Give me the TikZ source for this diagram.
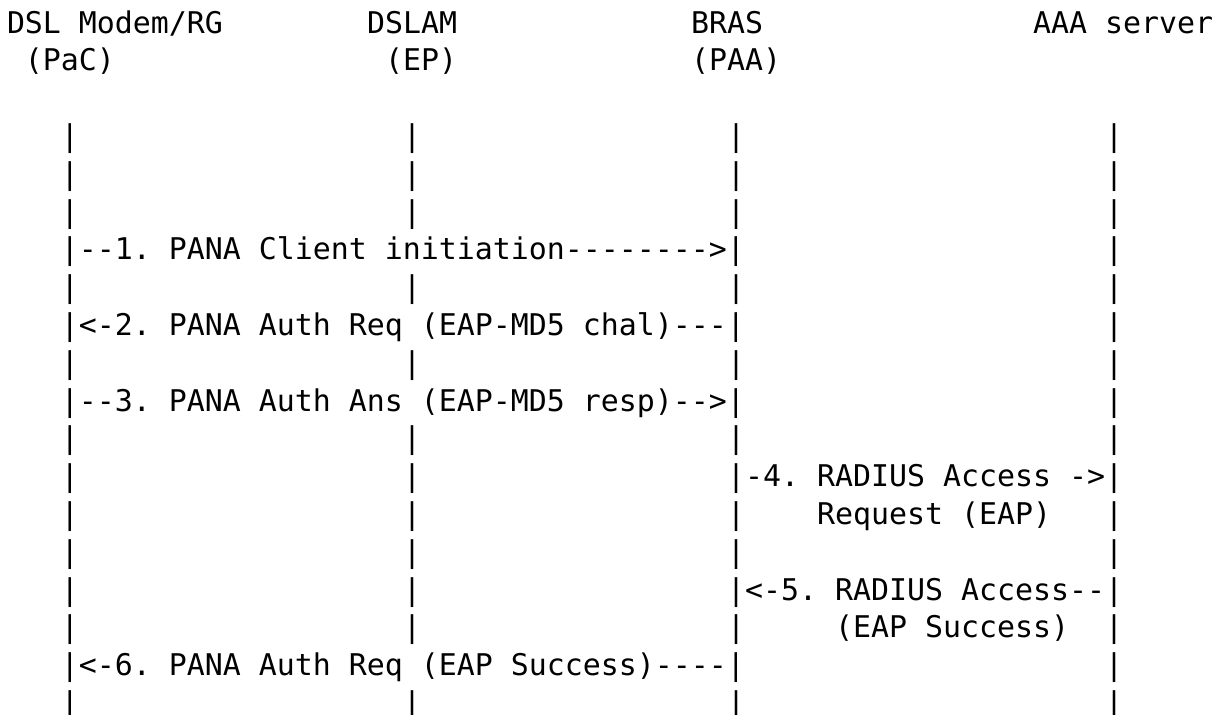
\documentclass[tikz,border=0pt]{standalone}
\usepackage{fontspec}
\newfontfamily\asciimono{DejaVu Sans Mono}
\frenchspacing
% one character cell is 18 units wide, one text line is 37.8 units high
\newcommand\asc[4]{\node[ascii] (#1) at ({7+18*(#2)},{33+37.8*(#3)}) {#4};}
\begin{document}
\begin{tikzpicture}[
  x=0.5pt, y=-0.5pt,
  ascii/.style={inner sep=0pt, outer sep=0pt, anchor=base west,
    font=\asciimono\fontsize{14.95pt}{18pt}\selectfont, text=black},
]
\useasboundingbox[fill=white] (0,0) rectangle (1231,714);

% entities
\asc{pacname}{0}{0}{DSL Modem/RG}
\asc{epname}{20}{0}{DSLAM}
\asc{paaname}{38}{0}{BRAS}
\asc{aaaname}{57}{0}{AAA server}
\asc{pacrole}{1}{1}{(PaC)}
\asc{eprole}{21}{1}{(EP)}
\asc{paarole}{38}{1}{(PAA)}

% lifelines, one bar per text line where no message crosses
\foreach \r in {3,4,5,7,9,11,12,13,14,15,16,18} {\asc{pac-\r}{3}{\r}{|}}
\foreach \r in {3,4,5,7,9,11,12,13,14,15,16,18} {\asc{ep-\r}{22}{\r}{|}}
\foreach \r in {3,4,5,7,9,11,13,14,16,18} {\asc{paa-\r}{40}{\r}{|}}
\foreach \r in {3,4,5,6,7,8,9,10,11,13,14,16,17,18} {\asc{aaa-\r}{61}{\r}{|}}

% messages
\asc{msg1}{3}{6}{|--1. PANA Client initiation-------->|}
\asc{msg2}{3}{8}{|<-2. PANA Auth Req (EAP-MD5 chal)---|}
\asc{msg3}{3}{10}{|--3. PANA Auth Ans (EAP-MD5 resp)-->|}
\asc{msg4}{40}{12}{|-4. RADIUS Access ->|}
\asc{msg4b}{45}{13}{Request (EAP)}
\asc{msg5}{40}{15}{|<-5. RADIUS Access--|}
\asc{msg5b}{46}{16}{(EAP Success)}
\asc{msg6}{3}{17}{|<-6. PANA Auth Req (EAP Success)----|}
\end{tikzpicture}
\end{document}
